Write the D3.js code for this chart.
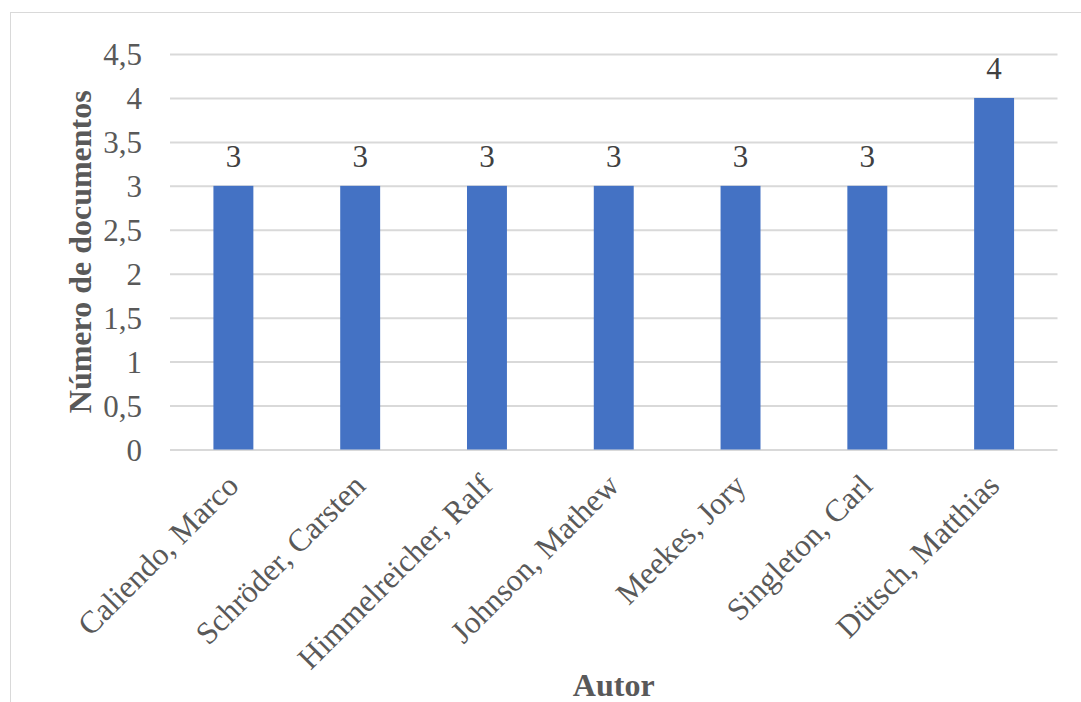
<!DOCTYPE html>
<html>
<head>
<meta charset="utf-8">
<script src="https://cdn.jsdelivr.net/npm/d3@7"></script>
<style>
  html, body { margin: 0; padding: 0; background: #fff; }
  svg { display: block; }
  text { font-family: "Liberation Serif", Tinos, "Times New Roman", Times, "Nimbus Roman", "DejaVu Serif", serif; }
</style>
</head>
<body>
<svg id="chart" width="1081" height="702"></svg>
<script>
const categories = ["Caliendo, Marco", "Schröder, Carsten", "Himmelreicher, Ralf", "Johnson, Mathew", "Meekes, Jory", "Singleton, Carl", "Dütsch, Matthias"];
const values = [3, 3, 3, 3, 3, 3, 4];
const yTicks = [0, 0.5, 1, 1.5, 2, 2.5, 3, 3.5, 4, 4.5];
const yTitle = "Número de documentos";
const xTitle = "Autor";

const svg = d3.select("#chart");
const W = 1081, H = 702;
const margin = {left: 170, right: 1081 - 1057.5, top: 54, bottom: 702 - 449.5};

// frame
svg.append("rect").attr("x", 10.5).attr("y", 12.5).attr("width", W + 10).attr("height", H + 10)
  .attr("fill", "none").attr("stroke", "#d9d9d9").attr("stroke-width", 1);

const x = d3.scaleBand().domain(categories).range([margin.left, W - margin.right]).paddingInner(0.685).paddingOuter(0.3425);
const y = d3.scaleLinear().domain([0, 4.5]).range([H - margin.bottom, margin.top]);

const fmt = v => String(v).replace(".", ",");

// grid
const yAxis = d3.axisLeft(y).tickValues(yTicks).tickFormat(fmt).tickSize(-(W - margin.right - margin.left)).tickPadding(28);
const gy = svg.append("g").attr("transform", `translate(${margin.left},0)`).call(yAxis);
gy.attr("font-family", null).attr("font-size", null);
gy.select(".domain").remove();
gy.selectAll(".tick line").attr("stroke", "#d9d9d9").attr("stroke-width", 2);
gy.selectAll(".tick text").attr("fill", "#595959").style("font-size", "31px").attr("dy", "0.34em");

// bars
svg.append("g").selectAll("rect").data(values).join("rect")
  .attr("x", (d, i) => x(categories[i]))
  .attr("y", d => y(d))
  .attr("width", x.bandwidth())
  .attr("height", d => y(0) - y(d))
  .attr("fill", "#4472c4");

// data labels
svg.append("g").selectAll("text").data(values).join("text")
  .attr("x", (d, i) => x(categories[i]) + x.bandwidth() / 2)
  .attr("y", d => y(d) - 19)
  .attr("text-anchor", "middle")
  .attr("fill", "#404040")
  .style("font-size", "31px")
  .text(d => fmt(d));

// category labels
svg.append("g").selectAll("text").data(categories).join("text")
  .attr("transform", d => `translate(${x(d) + x.bandwidth() / 2 + 7},${y(0) + 38}) rotate(-45)`)
  .attr("text-anchor", "end")
  .attr("fill", "#595959")
  .style("font-size", "31.5px")
  .text(d => d);

// y title
svg.append("text")
  .attr("transform", `translate(91,${(y(0) + y(4.5)) / 2}) rotate(-90)`)
  .attr("text-anchor", "middle")
  .attr("fill", "#595959")
  .style("font-size", "32px").style("font-weight", "bold")
  .text(yTitle);

// x title
svg.append("text")
  .attr("x", (margin.left + W - margin.right) / 2)
  .attr("y", 696)
  .attr("text-anchor", "middle")
  .attr("fill", "#595959")
  .style("font-size", "32px").style("font-weight", "bold")
  .text(xTitle);
</script>
</body>
</html>
